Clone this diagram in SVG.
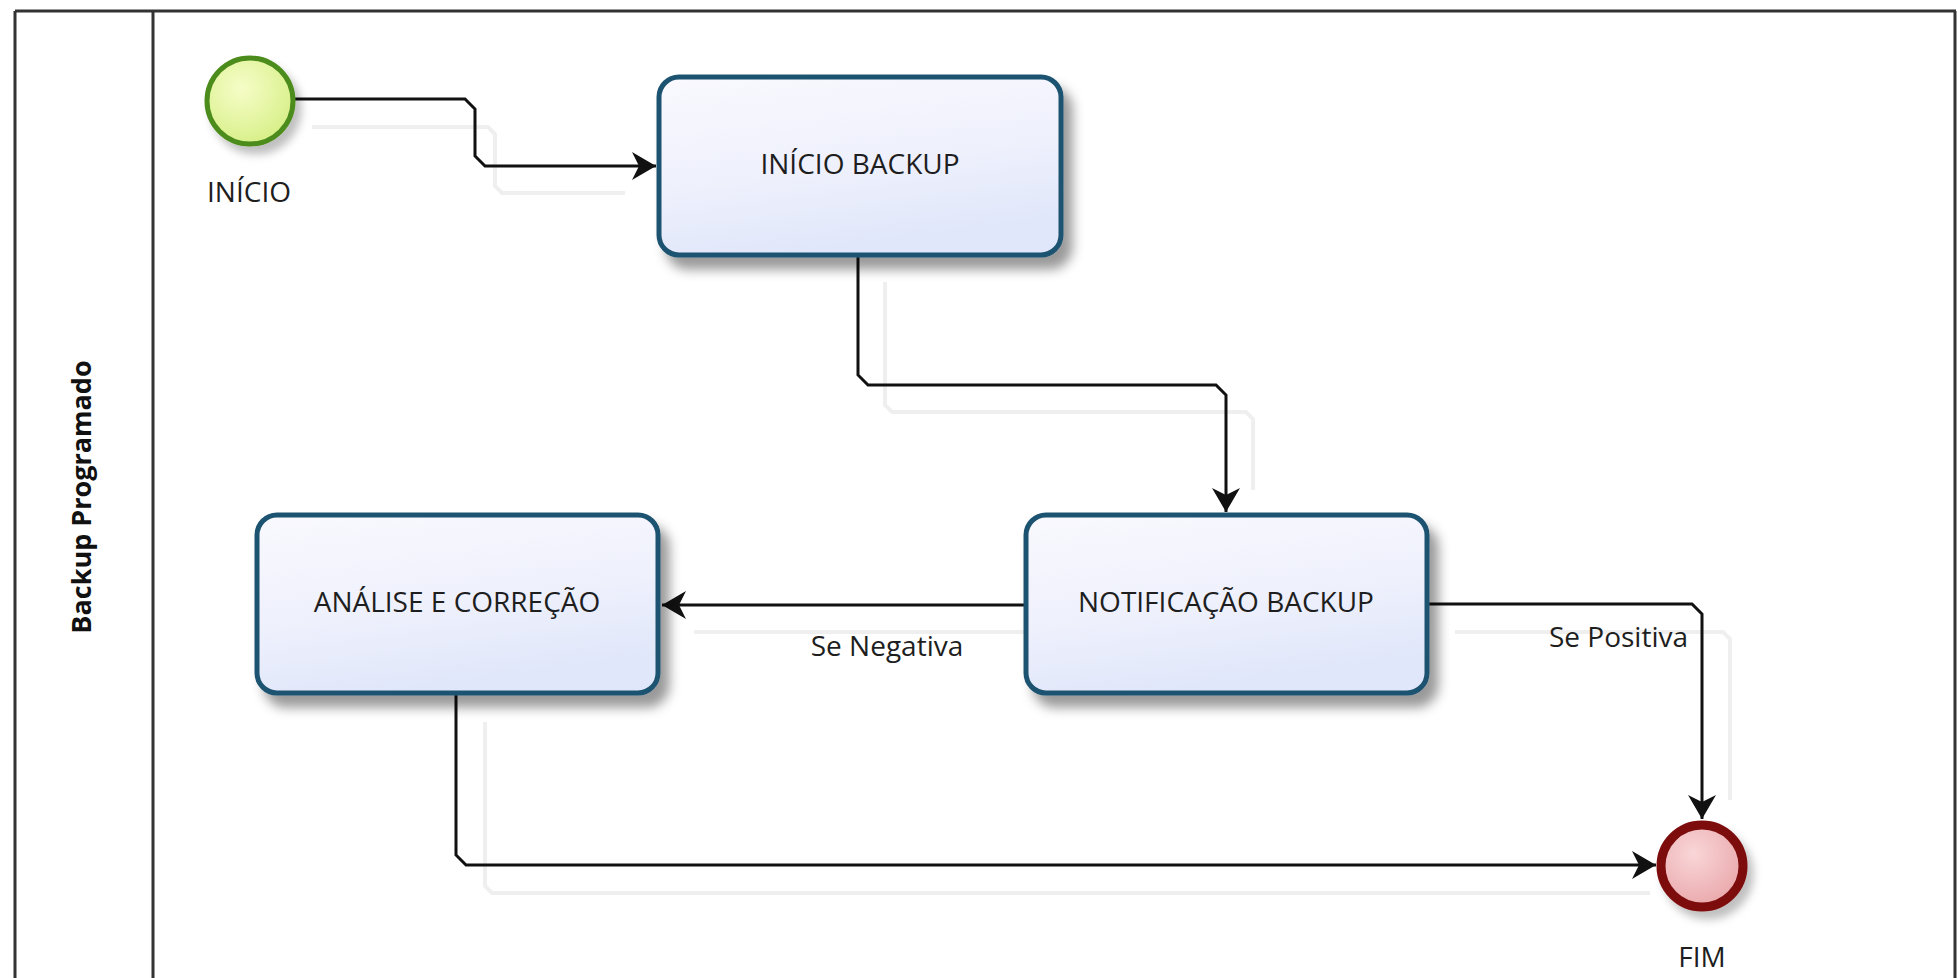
<svg xmlns="http://www.w3.org/2000/svg" width="1957" height="978" viewBox="0 0 1957 978">
  <style>
    .frame { stroke: #333; stroke-width: 3; fill: none; }
    .task { fill: url(#taskFill); stroke: #1f5270; stroke-width: 5; filter: url(#shadow); }
    .lbl { font-family: "Open Sans", "Noto Sans", "Liberation Sans", sans-serif; font-size: 28px; fill: #1e1e1e; }
    .conn { fill: none; stroke: #111; stroke-width: 3; }
    .ghost { fill: none; stroke: #efefef; stroke-width: 4; }
    .lane { font-family: "Open Sans", "Noto Sans", "Liberation Sans", sans-serif; font-size: 27px; font-weight: bold; fill: #111; }
  </style>
  <defs>
    <linearGradient id="taskFill" x1="0" y1="0" x2="0.3" y2="1">
      <stop offset="0" stop-color="#f9f9fe"/>
      <stop offset="0.6" stop-color="#eef0fc"/>
      <stop offset="1" stop-color="#e0e7fa"/>
    </linearGradient>
    <radialGradient id="startFill" cx="0.4" cy="0.35" r="0.7">
      <stop offset="0" stop-color="#f6fdc8"/>
      <stop offset="1" stop-color="#d6ef86"/>
    </radialGradient>
    <radialGradient id="endFill" cx="0.4" cy="0.35" r="0.7">
      <stop offset="0" stop-color="#f9d6d8"/>
      <stop offset="1" stop-color="#e9a6a9"/>
    </radialGradient>
    <filter id="shadow" x="-20%" y="-20%" width="150%" height="160%">
      <feDropShadow dx="9" dy="12" stdDeviation="6" flood-color="#000" flood-opacity="0.4"/>
    </filter>
    <filter id="cshadow" x="-30%" y="-30%" width="170%" height="170%">
      <feDropShadow dx="6" dy="8" stdDeviation="4" flood-color="#000" flood-opacity="0.25"/>
    </filter>
    <marker id="arrow" markerUnits="userSpaceOnUse" markerWidth="30" markerHeight="32" refX="24" refY="15" orient="auto">
      <path d="M24,15 L0,1 L7,15 L0,29 Z" fill="#111"/>
    </marker>
  </defs>

  <!-- pool / lane frame -->
  <g id="lane">
    <line class="frame" x1="15" y1="11" x2="1956" y2="11"/>
    <line class="frame" x1="15" y1="11" x2="15" y2="978"/>
    <line class="frame" x1="153" y1="11" x2="153" y2="978"/>
    <line class="frame" x1="1955" y1="11" x2="1955" y2="978"/>
    <text class="lane" transform="translate(91,497) rotate(-90)" text-anchor="middle">Backup Programado</text>
  </g>

  <!-- connectors -->
  <g id="connectors">
    <g id="ghosts">
      <path class="ghost" d="M312,127 L488,127 L495,134 L495,186 L502,193 L625,193"/>
      <path class="ghost" d="M885,282 L885,405 L892,412 L1246,412 L1253,419 L1253,490"/>
      <path class="ghost" d="M694,632 L1025,632"/>
      <path class="ghost" d="M1455,632 L1723,632 L1730,639 L1730,800"/>
      <path class="ghost" d="M485,722 L485,886 L492,893 L1650,893"/>
    </g>
    <path class="conn" marker-end="url(#arrow)" d="M294,99 L465,99 L475,109 L475,156 L485,166 L656,166"/>
    <path class="conn" marker-end="url(#arrow)" d="M858,256 L858,375 L868,385 L1216,385 L1226,395 L1226,512"/>
    <path class="conn" marker-end="url(#arrow)" d="M1025,605 L662,605"/>
    <path class="conn" marker-end="url(#arrow)" d="M1428,604 L1692,604 L1702,614 L1702,819"/>
    <path class="conn" marker-end="url(#arrow)" d="M456,694 L456,855 L466,865 L1656,865"/>
    <text class="lbl" x="887" y="656" text-anchor="middle">Se Negativa</text>
    <text class="lbl" x="1688" y="647" text-anchor="end">Se Positiva</text>
  </g>

  <!-- nodes -->
  <g id="start">
    <circle cx="250" cy="101" r="43" fill="url(#startFill)" stroke="#4c8c1c" stroke-width="5" filter="url(#cshadow)"/>
    <text class="lbl" x="249" y="202" text-anchor="middle">INÍCIO</text>
  </g>

  <g id="inicio-backup">
    <rect class="task" x="659" y="77" width="402" height="178" rx="20"/>
    <text class="lbl" x="860" y="174" text-anchor="middle">INÍCIO BACKUP</text>
  </g>

  <g id="notificacao-backup">
    <rect class="task" x="1026" y="515" width="401" height="178" rx="20"/>
    <text class="lbl" x="1226" y="612" text-anchor="middle">NOTIFICAÇÃO BACKUP</text>
  </g>

  <g id="analise-correcao">
    <rect class="task" x="257" y="515" width="401" height="178" rx="20"/>
    <text class="lbl" x="457" y="612" text-anchor="middle">ANÁLISE E CORREÇÃO</text>
  </g>

  <g id="fim">
    <circle cx="1702" cy="866" r="41" fill="url(#endFill)" stroke="#7d1010" stroke-width="9" filter="url(#cshadow)"/>
    <text class="lbl" x="1702" y="967" text-anchor="middle">FIM</text>
  </g>
</svg>
